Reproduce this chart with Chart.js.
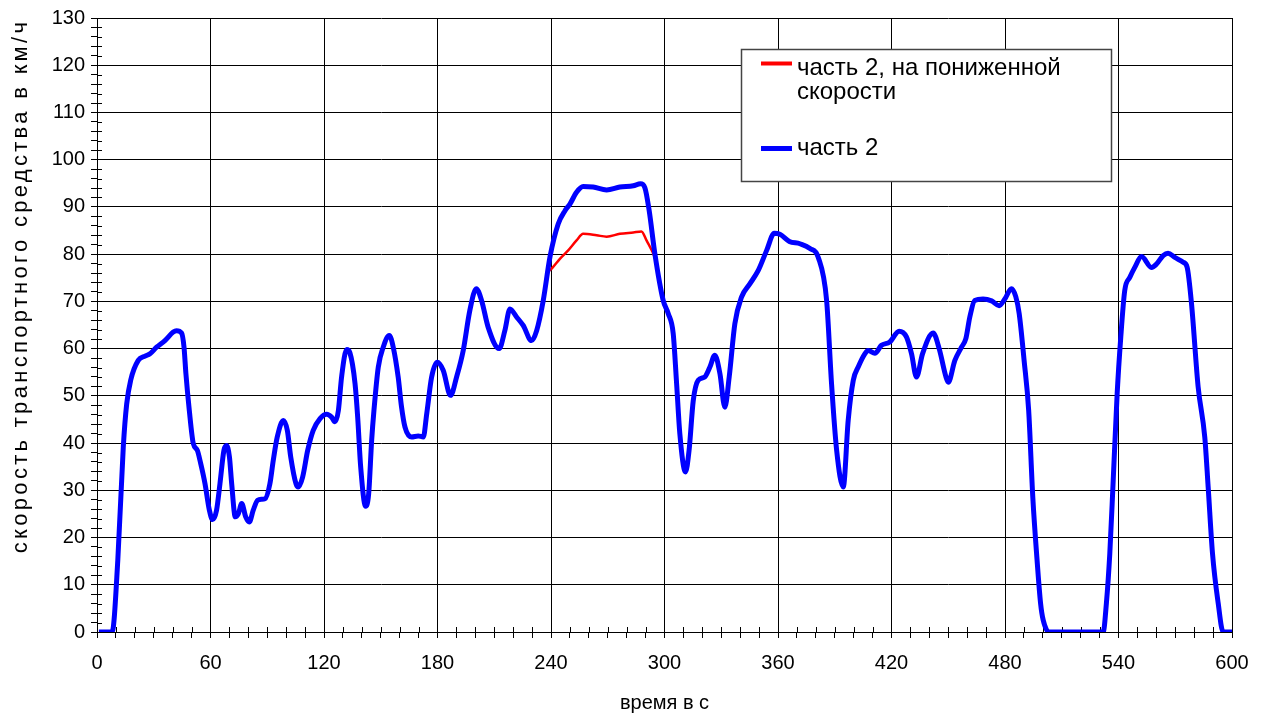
<!DOCTYPE html>
<html lang="ru">
<head>
  <meta charset="UTF-8">
  <title>Скорость транспортного средства</title>
  <script src="https://cdn.jsdelivr.net/npm/chart.js"></script>
  <style>
    body {
      margin: 0;
      background: #fff;
    }
    canvas {
      display: block;
    }
  </style>
</head>
<body>
  <canvas id="speedChart" width="1271" height="715"></canvas>

  <script>
    // время, с / скорость, км/ч (часть 2)
    const part2Time = [
      1, 8, 11, 13.9, 15.7, 17.8, 21.8, 25.4, 28, 31.5, 35.9, 40.3, 42, 44.7, 46, 47, 48.8,
      50.9, 53, 54.8, 57.1, 59.4, 61.1, 63.2, 65, 67.1, 68.5, 70, 71.2, 73.1, 74.7, 76.5, 78.6,
      80.5, 82.6, 84.9, 87, 88.8, 91.4, 93.2, 95.3, 98.5, 100.6, 102.4, 105.2, 106.4, 108.7,
      111.4, 114.3, 117.9, 121.4, 124, 125.8, 127.6, 129.3, 132, 133.7, 136.4, 137.8, 139.4,
      142, 143.6, 145.2, 146.4, 148.7, 151.3, 154.5, 156.6, 159.2, 161, 162.8, 166.3, 169.8,
      172.5, 174.3, 176.9, 179.9, 183, 186.9, 190.1, 193.6, 197.1, 200.5, 203.3, 206.8, 212.6,
      215.6, 218.3, 221.8, 225.3, 229.7, 232.4, 235.9, 239.5, 243.8, 247.4, 250, 253.5, 257,
      262.3, 269.4, 276.4, 283.5, 287.3, 289.6, 291.9, 294.9, 299.3, 302, 304.6, 306.4, 308.1,
      311.1, 313, 315.2, 317.8, 321.3, 324, 326.6, 329.3, 331.9, 334.2, 337.2, 340.7, 345.1,
      349.5, 354, 358, 361, 366, 371.6, 376.9, 381.3, 385.7, 388.3, 391, 394.5, 397.1, 399.8,
      402.4, 405.9, 407.7, 411.2, 414.7, 419.1, 424, 427.9, 430.6, 433.2, 436.4, 442, 445.2,
      448.8, 450, 453.5, 457, 459.3, 461.4, 464, 468.4, 472.9, 476.9, 479.9, 483.4, 485.7,
      487.5, 490.1, 492.5, 494.7, 496.9, 498.8, 500.2, 503.3, 531.9, 533.6, 535.4, 537.2, 539.3,
      541.2, 543.3, 546, 548.6, 552.2, 557.4, 560.1, 563.6, 566.2, 569.8, 574.2, 576.3, 578.6,
      582.1, 585.6, 587.4, 589.7, 592.7, 595.3, 600
    ];
    const part2Speed = [
      0, 0, 15.2, 39.2, 48.3, 53.3, 57.5, 58.4, 58.9, 60.3, 61.7, 63.5, 63.8, 63.3, 60.3, 54.7, 46.9,
      39.9, 38.5, 35.7, 31.4, 25.8, 23.8, 25.8, 31.4, 38.5, 39.5, 37.1, 31.4, 24.4, 25, 27.2, 24.4,
      23.3, 25.8, 27.9, 28.1, 28.2, 31.4, 36.4, 41.3, 44.8, 42.7, 37.1, 31.4, 30.7, 32.8,
      38.5, 42.7, 45.2, 46.1, 45.5, 44.5, 46.9, 54, 59.8, 59.1, 52.6, 45.5, 34.9,
      26.6, 29.2, 40.6, 46.9, 56.1, 60.3, 62.8, 60.3, 54, 47.6, 43.4, 41.3, 41.5,
      41.3, 46.2, 54, 57.1, 55.4, 50.1, 54, 59.6, 68.1, 72.7, 70.2, 64.5, 60,
      63.8, 68.4, 66.7, 64.9, 61.7, 63.8, 70.2, 79.5, 86.4, 89.2, 90.6, 93.1, 94.3,
      94.2, 93.6, 94.2, 94.5, 94.9, 94.1, 89.2, 80.1, 70.2, 67.4, 63.2, 52.6, 42,
      33.9, 38.5, 49, 53.3, 54, 56.1, 58.6, 54.7, 47.6, 54, 65.3, 70.9, 73.7,
      76.5, 80.8, 84.4, 84.2, 82.7, 82.2, 81.2, 79.3, 70.2, 52.6, 38.5, 30.7, 44.8, 53.3,
      56.1, 58.9, 59.6, 59, 60.7, 61.4, 63.7, 62.5, 58.9, 54, 58.9, 63.3, 60,
      54, 52.9, 57.5, 60.3, 62.1, 66.7, 70.2, 70.5, 70.1, 69.1, 70.5, 72.7, 71,
      67.4, 57.5, 47, 28.5, 15.5, 6.1, 2.5, 0, 0, 6.1, 16.6, 32.1, 50.5,
      62.4, 72.3, 75.1, 77.2, 79.5, 77.2, 77.9, 79.7, 80.2, 79.3, 78.3, 77.2, 69.5,
      51.9, 41.3, 30.7, 16.6, 6.1, 0, 0
    ];

    // участок, где часть 2 на пониженной скорости отличается
    const reducedTime = [239, 240.5, 244.7, 249.1, 253.5, 257, 264.1, 269.4, 276.4, 283.5, 287.8, 290.5, 294.9, 296.5];
    const reducedSpeed = [76.5, 77, 79, 80.8, 82.9, 84.3, 84, 83.7, 84.3, 84.6, 84.8, 82.9, 79.3, 77];

    const seriesLabels = ['часть 2, на пониженной скорости', 'часть 2'];
    const seriesColors = ['#ff0000', '#0000ff'];

    const FONT = '"Liberation Sans", Arial, sans-serif';

    function toPoints(xs, ys) {
      return xs.map((x, i) => ({ x: x, y: ys[i] }));
    }

    // малые деления, пересекающие оси
    const minorTicks = {
      id: 'minorTicks',
      beforeDatasetsDraw(chart) {
        const { ctx, chartArea, scales } = chart;
        ctx.save();
        ctx.strokeStyle = '#000';
        ctx.lineWidth = 1;
        ctx.beginPath();
        for (let v = 0; v <= 600; v += 10) {
          if (v % 60 === 0) continue;
          const x = Math.round(scales.x.getPixelForValue(v)) + 0.5;
          ctx.moveTo(x, chartArea.bottom);
          ctx.lineTo(x, chartArea.bottom - 5);
        }
        for (let v = 0; v <= 130; v += 2) {
          if (v % 10 === 0) continue;
          const y = Math.round(scales.y.getPixelForValue(v)) + 0.5;
          ctx.moveTo(chartArea.left, y);
          ctx.lineTo(chartArea.left + 5, y);
        }
        ctx.stroke();
        ctx.restore();
      }
    };

    const legendBox = {
      id: 'legendBox',
      afterDraw(chart) {
        const ctx = chart.ctx;
        ctx.save();
        ctx.fillStyle = '#fff';
        ctx.fillRect(741, 49, 370, 133);
        ctx.strokeStyle = '#444';
        ctx.lineWidth = 1.5;
        ctx.strokeRect(741.5, 49.5, 370, 132);

        ctx.lineWidth = 4;
        ctx.strokeStyle = seriesColors[0];
        ctx.beginPath();
        ctx.moveTo(761, 63.5);
        ctx.lineTo(792, 63.5);
        ctx.stroke();
        ctx.lineWidth = 5;
        ctx.strokeStyle = seriesColors[1];
        ctx.beginPath();
        ctx.moveTo(761, 148.5);
        ctx.lineTo(792, 148.5);
        ctx.stroke();

        ctx.fillStyle = '#000';
        ctx.font = '24px ' + FONT;
        ctx.textBaseline = 'alphabetic';
        ctx.textAlign = 'left';
        ctx.fillText('часть 2, на пониженной', 797, 75);
        ctx.fillText('скорости', 797, 99);
        ctx.fillText(seriesLabels[1], 797, 155);

        // подпись оси Y
        ctx.translate(21, 286);
        ctx.rotate(-Math.PI / 2);
        ctx.textAlign = 'center';
        ctx.textBaseline = 'middle';
        ctx.font = '22px ' + FONT;
        ctx.letterSpacing = '3.3px';
        ctx.fillText('скорость транспортного средства в км/ч', 0, 0);
        ctx.restore();
      }
    };

    new Chart(document.getElementById('speedChart'), {
      type: 'line',
      data: {
        datasets: [
          {
            label: seriesLabels[0],
            data: toPoints(reducedTime, reducedSpeed),
            borderColor: seriesColors[0],
            borderWidth: 2.5,
            pointRadius: 0,
            cubicInterpolationMode: 'monotone',
            fill: false,
            order: 1
          },
          {
            label: seriesLabels[1],
            data: toPoints(part2Time, part2Speed),
            borderColor: seriesColors[1],
            borderWidth: 5,
            pointRadius: 0,
            cubicInterpolationMode: 'monotone',
            fill: false,
            order: 0
          }
        ]
      },
      options: {
        responsive: false,
        animation: false,
        layout: { padding: { top: 17, right: 39, left: 0, bottom: 0 } },
        plugins: {
          legend: { display: false },
          tooltip: { enabled: false }
        },
        scales: {
          x: {
            type: 'linear',
            min: 0,
            max: 600,
            afterFit: s => { s.height = 83; },
            border: { color: '#000', width: 1 },
            grid: {
              color: c => (c.tick && c.tick.value % 60 === 0) ? '#000' : 'rgba(0,0,0,0)',
              tickColor: '#000',
              tickLength: 6,
              lineWidth: 1
            },
            ticks: {
              stepSize: 10,
              autoSkip: false,
              maxRotation: 0,
              padding: 13,
              color: '#000',
              font: { family: FONT, size: 20 },
              callback: v => v % 60 === 0 ? v : ''
            },
            title: {
              display: true,
              text: 'время в с',
              color: '#000',
              font: { family: FONT, size: 20 },
              padding: { top: 0, bottom: 0 }
            }
          },
          y: {
            min: 0,
            max: 130,
            afterFit: s => { s.width = 97; },
            border: { color: '#000', width: 1 },
            grid: {
              color: c => (c.tick && c.tick.value % 10 === 0) ? '#000' : 'rgba(0,0,0,0)',
              tickColor: '#000',
              tickLength: 6,
              lineWidth: 1
            },
            ticks: {
              stepSize: 2,
              autoSkip: false,
              padding: 6,
              color: '#000',
              font: { family: FONT, size: 20 },
              callback: v => v % 10 === 0 ? v : ''
            }
          }
        }
      },
      plugins: [minorTicks, legendBox]
    });
  </script>
</body>
</html>
